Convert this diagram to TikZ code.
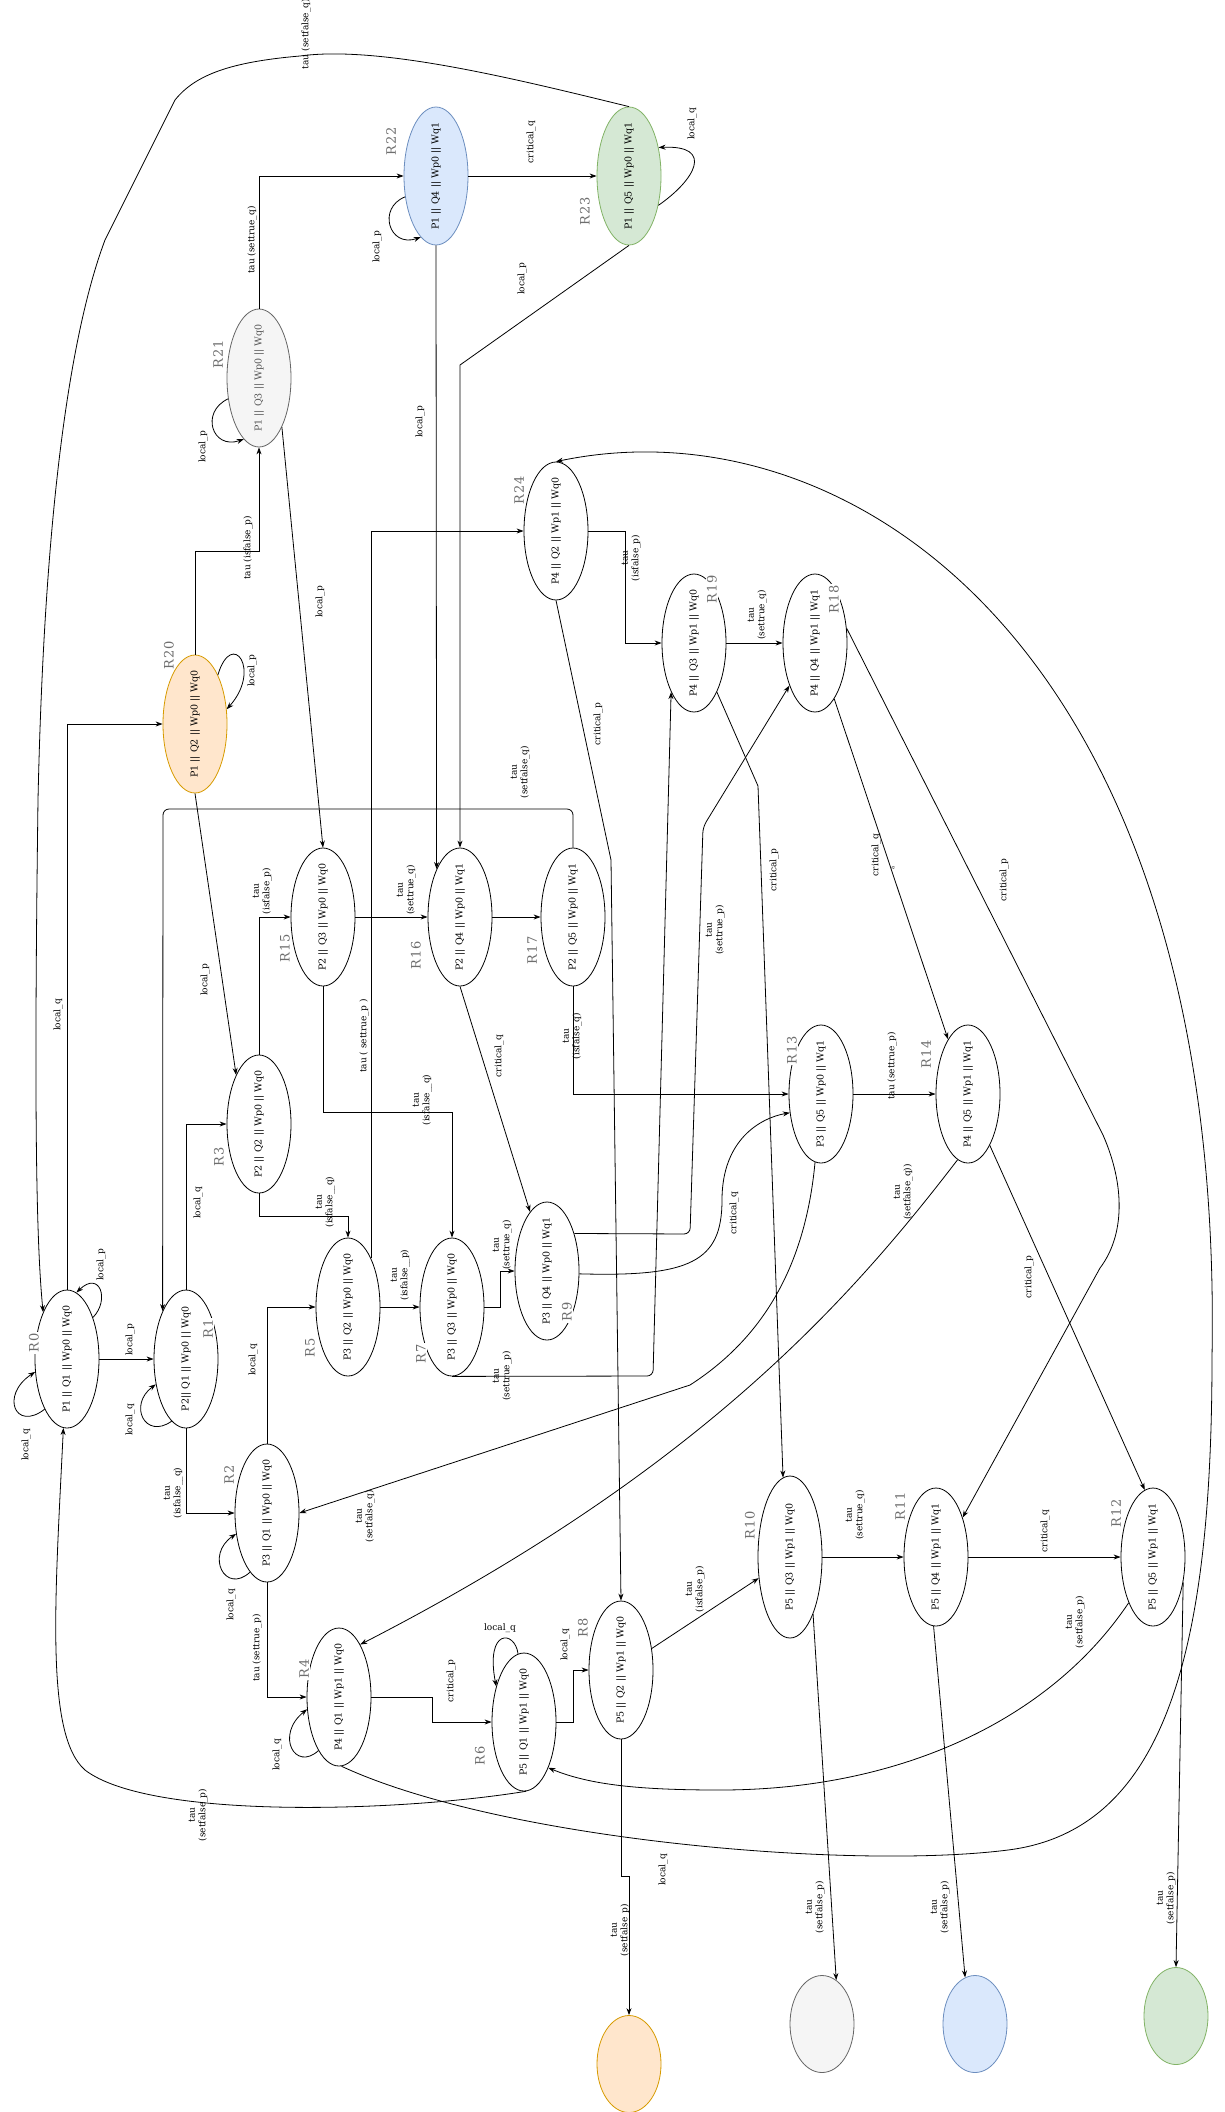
\documentclass[tikz,border=0pt]{standalone}
\usepackage{fontspec}
\setmainfont{DejaVu Serif}
\newfontfamily\rfont[LetterSpace=8]{DejaVu Serif}
\usepackage{xcolor}
\usetikzlibrary{shapes.geometric,arrows.meta}

\definecolor{bluefill}{HTML}{DAE8FC}
\definecolor{bluedraw}{HTML}{6C8EBF}
\definecolor{greenfill}{HTML}{D5E8D4}
\definecolor{greendraw}{HTML}{82B366}
\definecolor{greyfill}{HTML}{F5F5F5}
\definecolor{greydraw}{HTML}{666666}
\definecolor{greytext}{HTML}{555555}
\definecolor{orangefill}{HTML}{FFE6CC}
\definecolor{orangedraw}{HTML}{D79B00}
\definecolor{rgrey}{HTML}{6E6E6E}

\tikzset{
  st/.style={ellipse, draw, minimum width=64pt, minimum height=138pt, inner sep=0pt},
  sink/.style={ellipse, draw, minimum width=64pt, minimum height=97pt, inner sep=0pt},
  txt/.style={rotate=90, inner sep=0pt, font=\fontsize{9.5}{11}\selectfont},
  rlab/.style={rotate=90, fill=white, inner sep=1pt, text=rgrey, font=\rfont\fontsize{13}{15}\selectfont},
  lbl/.style={rotate=90, align=center, inner sep=0pt, font=\fontsize{9}{10.5}\selectfont},
  arr/.style={-{Stealth[length=7pt,width=5pt]}},
}

\begin{document}
\begin{tikzpicture}[x=1pt,y=-1pt,line width=0.8pt]
\path[use as bounding box, fill=white] (0,0) rectangle (1225,2112);

% states
\node[st, label={[txt]center:P1 || Q1 || Wp0 || Wq0}] (R0) at (67,1359) {};
\node[st, label={[txt]center:P2|| Q1 || Wp0 || Wq0}] (R1) at (186,1359) {};
\node[st, label={[txt]center:P3 || Q1 || Wp0 || Wq0}] (R2) at (267,1513) {};
\node[st, label={[txt]center:P2 || Q2 || Wp0 || Wq0}] (R3) at (259,1124) {};
\node[st, label={[txt]center:P4 || Q1 || Wp1 || Wq0}] (R4) at (339,1697) {};
\node[st, label={[txt]center:P3 || Q2 || Wp0 || Wq0}] (R5) at (348,1307) {};
\node[st, label={[txt]center:P5 || Q1 || Wp1 || Wq0}] (R6) at (524,1722) {};
\node[st, label={[txt]center:P3 || Q3 || Wp0 || Wq0}] (R7) at (452,1307) {};
\node[st, label={[txt]center:P5 || Q2 || Wp1 || Wq0}] (R8) at (621,1670) {};
\node[st, label={[txt]center:P3 || Q4 || Wp0 || Wq1}] (R9) at (547,1271) {};
\node[st, minimum height=162pt, label={[txt]center:P5 || Q3 || Wp1 || Wq0}] (R10) at (790,1557) {};
\node[st, label={[txt]center:P5 || Q4 || Wp1 || Wq1}] (R11) at (936,1557) {};
\node[st, label={[txt]center:P5 || Q5 || Wp1 || Wq1}] (R12) at (1153,1557) {};
\node[st, label={[txt]center:P3 || Q5 || Wp0 || Wq1}] (R13) at (821,1094) {};
\node[st, label={[txt]center:P4 || Q5 || Wp1 || Wq1}] (R14) at (968,1094) {};
\node[st, label={[txt]center:P2 || Q3 || Wp0 || Wq0}] (R15) at (323,917) {};
\node[st, label={[txt]center:P2 || Q4 || Wp0 || Wq1}] (R16) at (460,917) {};
\node[st, label={[txt]center:P2 || Q5 || Wp0 || Wq1}] (R17) at (573,917) {};
\node[st, label={[txt]center:P4 || Q4 || Wp1 || Wq1}] (R18) at (815,643) {};
\node[st, label={[txt]center:P4 || Q3 || Wp1 || Wq0}] (R19) at (694,643) {};
\node[st, fill=orangefill, draw=orangedraw, label={[txt]center:P1 || Q2 || Wp0 || Wq0}] (R20) at (195,724) {};
\node[st, fill=greyfill, draw=greydraw, label={[txt, text=greytext]center:P1 || Q3 || Wp0 || Wq0}] (R21) at (259,378) {};
\node[st, fill=bluefill, draw=bluedraw, label={[txt]center:P1 || Q4 || Wp0 || Wq1}] (R22) at (436,176) {};
\node[st, fill=greenfill, draw=greendraw, label={[txt]center:P1 || Q5 || Wp0 || Wq1}] (R23) at (629,176) {};
\node[st, label={[txt]center:P4 || Q2 || Wp1 || Wq0}] (R24) at (556,531) {};

\node[sink, fill=orangefill, draw=orangedraw] (O) at (629,2064) {};
\node[sink, fill=greyfill, draw=greydraw] (G) at (822,2024) {};
\node[sink, fill=bluefill, draw=bluedraw] (B) at (975,2024) {};
\node[sink, fill=greenfill, draw=greendraw] (Gr) at (1176,2016) {};

% state names
\node[rlab] (n0) at (34,1343) {R0};
\node[rlab] (n1) at (208,1329) {R1};
\node[rlab] (n2) at (229,1475) {R2};
\node[rlab] (n3) at (219,1157) {R3};
\node[rlab] (n4) at (304,1669) {R4};
\node[rlab] (n5) at (310,1348) {R5};
\node[rlab] (n6) at (480,1756) {R6};
\node[rlab] (n7) at (421,1354) {R7};
\node[rlab] (n8) at (583,1628) {R8};
\node[rlab] (n9) at (567,1312) {R9};
\node[rlab] (n10) at (750,1525) {R10};
\node[rlab] (n11) at (900,1506) {R11};
\node[rlab] (n12) at (1116,1513) {R12};
\node[rlab] (n13) at (792,1050) {R13};
\node[rlab] (n14) at (926,1054) {R14};
\node[rlab] (n15) at (285,948) {R15};
\node[rlab] (n16) at (416,955) {R16};
\node[rlab] (n17) at (532,950) {R17};
\node[rlab] (n18) at (834,599) {R18};
\node[rlab] (n19) at (712,589) {R19};
\node[rlab, fill=none] (n20) at (169,655) {R20};
\node[rlab, fill=none] (n21) at (218,354) {R21};
\node[rlab, fill=none] (n22) at (391,141) {R22};
\node[rlab, fill=none] (n23) at (585,211) {R23};
\node[rlab] (n24) at (519,490) {R24};

% bend points
\coordinate (k1) at (163,809);
\coordinate (k2) at (195,551);
\coordinate (k3) at (460,365);
\coordinate (k4) at (259,1216);
\coordinate (k5) at (323,1112);
\coordinate (k6) at (500,1307);
\coordinate (k7) at (653,1376);
\coordinate (k8) at (690,1234);
\coordinate (k9) at (703,827);
\coordinate (k10) at (1103,1135);
\coordinate (k11) at (1100,1268);
\coordinate (k12) at (758,786);
\coordinate (k13) at (625,531);
\coordinate (k14) at (611,860);
\coordinate (k15) at (432,1697);
\coordinate (k16) at (573,1722);
\coordinate (k17) at (621,1876);
\coordinate (k18) at (629,1876);

% transitions
\draw[arr] (R0.58) .. controls (110,1300) and (100,1270) .. (R0.82);
\draw[arr] (R0.246) .. controls (15,1432) and (0,1395) .. (R0.202);
\draw[arr] (R0.east) -- (R1.west);
\draw[arr] (R0.north) |- (R20.west);
\draw[arr] (R23.north) .. controls (520,80) and (380,45) .. (300,56) .. controls (230,62) and (195,75) .. (175,100) -- (105,240) .. controls (75,320) and (45,480) .. (38,800) .. controls (34,1100) and (36,1240) .. (R0.117);
\draw[arr] (R1.257) .. controls (145,1440) and (128,1405) .. (R1.220);
\draw[arr] (R1.north) |- (R3.west);
\draw[arr] (R1.south) |- (R2.west);
\draw[arr, rounded corners=6pt] (R17.north) |- (k1) -- (R1.116);
\draw[arr] (R20.65) .. controls (232,628) and (262,670) .. (R20.25);
\draw[arr] (R20.north) -- (k2) -| (R21.south);
\draw[arr] (R20.south) -- (R3.115);
\draw[arr] (R21.214) .. controls (200,412) and (212,450) .. (R21.256);
\draw[arr] (R21.north) |- (R22.west);
\draw[arr] (R21.-65) -- (R15.north);
\draw[arr] (R22.214) .. controls (377,208) and (389,248) .. (R22.256);
\draw[arr] (R22.east) -- (R23.west);
\draw[arr] (R23.-45) .. controls (695,180) and (715,145) .. (R23.44);
\draw[arr] (R22.south) -- (R16.116);
\draw[arr] (R23.south) -- (k3) -- (R16.north);
\draw[arr] (R3.north) |- (R15.west);
\draw[arr] (R3.south) -- (k4) -| (R5.north);
\draw[arr] (R15.east) -- (R16.west);
\draw[arr] (R16.east) -- (R17.west);
\draw[arr] (R15.south) -- (k5) -| (R7.north);
\draw[arr] (R16.south) -- (R9.106);
\draw[arr] (R17.south) |- (R13.west);
\draw[arr] (R5.65) |- (R24.west);
\draw[arr] (R5.east) -- (R7.west);
\draw[arr] (R7.east) -- (k6) |- (R9.west);
\draw[arr, rounded corners=6pt] (R7.south) -- (k7) -- (R19.245);
\draw[arr, rounded corners=6pt] (R9.54) -- (k8) -- (k9) -- (R18.239);
\draw[arr] (R9.-5) .. controls (690,1277) and (722,1262) .. (722,1200) .. controls (722,1140) and (760,1118) .. (R13.211);
\draw[arr] (R13.east) -- (R14.west);
\draw[arr] (R13.-95) .. controls (805,1270) and (760,1340) .. (690,1385) -- (R2.east);
\draw[arr] (R14.-99) .. controls (850,1300) and (700,1470) .. (R4.68);
\draw[arr] (R14.-67) -- (R12.97);
\draw[arr] (R18.-71) -- (R14.110);
\draw[arr] (R18.25) -- (k10) .. controls (1125,1185) and (1125,1235) .. (k11) -- (R11.56);
\draw[arr] (R19.east) -- (R18.west);
\draw[arr] (R19.-65) -- (k12) -- (R10.95);
\draw[arr] (R24.east) -- (k13) |- (R19.west);
\draw[arr] (R24.south) -- (k14) -- (R8.north);
\draw[arr] (R4.-88) .. controls (500,1840) and (850,1870) .. (1008,1850) .. controls (1166,1830) and (1212,1650) .. (1212,1357) .. controls (1225,650) and (850,400) .. (R24.north);
\draw[arr] (R2.north) |- (R5.west);
\draw[arr] (R2.254) .. controls (225,1595) and (205,1555) .. (R2.214);
\draw[arr] (R2.south) |- (R4.west);
\draw[arr] (R4.249) .. controls (295,1772) and (275,1735) .. (R4.201);
\draw[arr] (R4.east) -- (k15) |- (R6.west);
\draw[arr] (R6.95) .. controls (515,1630) and (485,1628) .. (R6.128);
\draw[arr] (R6.east) -- (k16) |- (R8.west);
\draw[arr] (R6.-88) .. controls (400,1812) and (150,1820) .. (85,1770) .. controls (45,1735) and (55,1600) .. (R0.-93);
\draw[arr] (R8.35) -- (R10.214);
\draw[arr] (R8.south) -- (k17) -- (k18) -- (O.north);
\draw[arr] (R10.east) -- (R11.west);
\draw[arr] (R11.east) -- (R12.west);
\draw[arr] (R12.242) .. controls (1050,1720) and (900,1790) .. (720,1790) .. controls (640,1790) and (590,1785) .. (R6.-62);
\draw[arr] (R10.-68) -- (G.72);
\draw[arr] (R11.-92) -- (B.102);
\draw[arr] (R12.-40) -- (Gr.north);

% transition labels
\node[lbl] (e1) at (306,34) {tau (setfalse\_q)};
\node[lbl] (e2) at (531,142) {critical\_q};
\node[lbl] (e3) at (692,124) {local\_q};
\node[lbl] (e4) at (377,247) {local\_p};
\node[lbl] (e5) at (252,240) {tau (settrue\_q)};
\node[lbl] (e6) at (420,422) {local\_p};
\node[lbl] (e7) at (522,279) {local\_p};
\node[lbl] (e8) at (203,447) {local\_p};
\node[lbl] (e9) at (248,548) {tau (isfalse\_p)};
\node[lbl] (e10) at (320,602) {local\_p};
\node[lbl] (e11) at (252,671) {local\_p};
\node[lbl] (e12) at (631,558) {tau\\(isfalse\_p)};
\node[lbl] (e13) at (757,615) {tau\\(settrue\_q)};
\node[lbl] (e14) at (598,724) {critical\_p};
\node[lbl] (e15) at (520,772) {tau\\(setfalse\_q)};
\node[lbl] (e16) at (774,870) {critical\_p};
\node[lbl] (e17) at (876,855) {critical\_q};
\node[lbl, font=\fontsize{5}{6}\selectfont] (e18) at (893,868) {a};
\node[lbl] (e19) at (1004,880) {critical\_p};
\node[lbl] (e20) at (58,1015) {local\_q};
\node[lbl] (e21) at (205,980) {local\_p};
\node[lbl] (e22) at (262,891) {tau\\(isfalse\_p)};
\node[lbl] (e23) at (406,890) {tau\\(settrue\_q)};
\node[lbl] (e24) at (364,1036) {tau ( settrue\_p )};
\node[lbl] (e25) at (422,1100) {tau\\(isfalse\_\_q)};
\node[lbl] (e26) at (499,1056) {critical\_q};
\node[lbl] (e27) at (572,1036) {tau\\(isfalse\_q)};
\node[lbl] (e28) at (715,930) {tau\\(settrue\_p)};
\node[lbl] (e29) at (892,1066) {tau (settrue\_p)};
\node[lbl] (e30) at (903,1192) {tau\\(setfalse\_q))};
\node[lbl] (e31) at (1029,1277) {critical\_p};
\node[lbl] (e32) at (734,1213) {critical\_q};
\node[lbl] (e33) at (198,1203) {local\_q};
\node[lbl] (e34) at (325,1202) {tau\\(isfalse\_\_q)};
\node[lbl] (e35) at (101,1265) {local\_p};
\node[lbl] (e36) at (130,1340) {local\_p};
\node[lbl] (e37) at (400,1275) {tau\\(isfalse\_\_p)};
\node[lbl] (e38) at (502,1245) {tau\\(settrue\_q)};
\node[lbl] (e39) at (502,1376) {tau\\(settrue\_p)};
\node[lbl] (e40) at (253,1360) {local\_q};
\node[lbl] (e41) at (26,1445) {local\_q};
\node[lbl] (e42) at (130,1420) {local\_q};
\node[lbl] (e43) at (173,1493) {tau\\(isfalse\_\_q)};
\node[lbl] (e44) at (231,1605) {local\_q};
\node[lbl] (e45) at (365,1516) {tau\\(setfalse\_q)};
\node[lbl] (e46) at (257,1648) {tau (settrue\_p)};
\node[lbl] (e47) at (277,1755) {local\_q};
\node[lbl] (e48) at (451,1681) {critical\_p};
\node[lbl, rotate=-90] (e49) at (500,1628) {local\_q};
\node[lbl] (e50) at (565,1645) {local\_q};
\node[lbl] (e51) at (695,1589) {tau\\(isfalse\_p)};
\node[lbl] (e52) at (855,1515) {tau\\(settrue\_q)};
\node[lbl] (e53) at (1045,1531) {critical\_q};
\node[lbl] (e54) at (1075,1622) {tau\\(setfalse\_p)};
\node[lbl] (e55) at (198,1815) {tau\\(setfalse\_p)};
\node[lbl] (e56) at (663,1870) {local\_q};
\node[lbl] (e57) at (620,1930) {tau\\(setfalse\_p)};
\node[lbl] (e58) at (815,1907) {tau\\(setfalse\_p)};
\node[lbl] (e59) at (940,1907) {tau\\(setfalse\_p)};
\node[lbl] (e60) at (1166,1898) {tau\\(setfalse\_p)};

\end{tikzpicture}
\end{document}
